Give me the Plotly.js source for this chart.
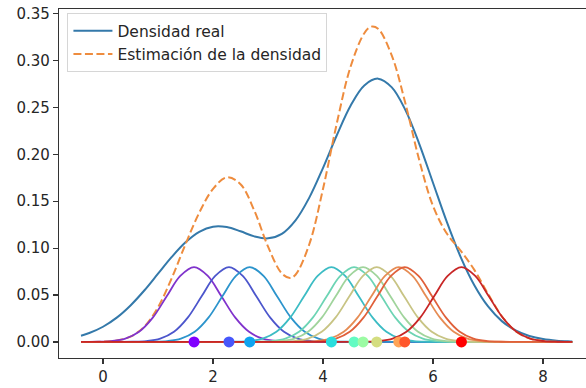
<!DOCTYPE html>
<html>
<head>
<meta charset="utf-8">
<script src="https://cdn.plot.ly/plotly-3.0.1.min.js"></script>
<style>
html, body { margin: 0; padding: 0; background: #ffffff; overflow: hidden; }
#chart { width: 586px; height: 388px; }
</style>
</head>
<body>
<div id="chart"></div>
<script>
// ---- Data ----
// Real density curve
const truthX = [-0.4, -0.25, 0, 0.25, 0.5, 0.75, 1.0, 1.25, 1.5, 1.75, 2.0, 2.25, 2.5, 2.75, 3.0, 3.25, 3.5, 3.75, 4.0, 4.25, 4.5, 4.75, 5.0, 5.25, 5.5, 5.75, 6.0, 6.25, 6.5, 6.75, 7.0, 7.25, 7.5, 7.75, 8.0, 8.25, 8.5, 8.53];
const truthY = [0.0067, 0.0095, 0.0162, 0.0259, 0.0389, 0.0548, 0.0727, 0.0906, 0.1062, 0.1174, 0.1228, 0.1224, 0.1179, 0.1125, 0.1104, 0.1152, 0.1296, 0.1538, 0.1856, 0.2203, 0.2518, 0.2734, 0.2806, 0.2713, 0.2468, 0.2109, 0.1694, 0.1279, 0.0907, 0.0604, 0.0378, 0.0222, 0.0123, 0.0064, 0.0031, 0.0014, 0.0006, 0.0005];

// Estimated density curve (dashed)
const estX = [-0.4, 0, 0.25, 0.5, 0.75, 1.0, 1.25, 1.5, 1.75, 2.0, 2.25, 2.5, 2.75, 3.0, 3.25, 3.4, 3.5, 3.75, 4.0, 4.25, 4.5, 4.75, 4.875, 5.0, 5.25, 5.5, 5.75, 6.0, 6.25, 6.5, 6.75, 7.0, 7.25, 7.5, 7.75, 8.0, 8.25, 8.5, 8.53];
const estY = [0, 0.0003, 0.0016, 0.0057, 0.0163, 0.0370, 0.0681, 0.1042, 0.1378, 0.1631, 0.1754, 0.1681, 0.1400, 0.1016, 0.0730, 0.0682, 0.0716, 0.1041, 0.1633, 0.2329, 0.2933, 0.3290, 0.3360, 0.3338, 0.3051, 0.2535, 0.1935, 0.1447, 0.1155, 0.0973, 0.0768, 0.0512, 0.0274, 0.0115, 0.0038, 0.0010, 0.0002, 0, 0];

// Sample points (dots on the axis) and their kernels
const sampleX = [1.655, 2.29, 2.667, 4.152, 4.564, 4.727, 4.976, 5.376, 5.485, 6.516];
const sampleY = [0, 0, 0, 0, 0, 0, 0, 0, 0, 0];
// Shape of one kernel bump (offset from its sample point -> height)
const kernelOffset = [-2, -1.75, -1.5, -1.25, -1, -0.75, -0.5, -0.25, 0, 0.25, 0.5, 0.75, 1, 1.25, 1.5, 1.75, 2];
const kernelHeight = [0, 0.0002, 0.0009, 0.0035, 0.0108, 0.0259, 0.0484, 0.0704, 0.0798, 0.0704, 0.0484, 0.0259, 0.0108, 0.0035, 0.0009, 0.0002, 0];
const curveDomain = [-0.4, 8.53];

const dotColors = ['#8000ff', '#4757fb', '#0ea4f0', '#2adddd', '#63fbc3', '#9cfba4', '#d4dd80', '#ffa457', '#ff572c', '#ff0000'];
const kernelColors = ['#8033cc', '#4c56cc', '#2c94cc', '#3cbcc4', '#6cd4b4', '#a0d49c', '#c8c484', '#e68c54', '#e0603a', '#c82626'];

const legendNames = ['Densidad real', 'Estimación de la densidad'];
const yTicks = [0, 0.05, 0.10, 0.15, 0.20, 0.25, 0.30, 0.35];
const xTicks = [0, 2, 4, 6, 8];

// ---- Traces ----
const traces = [];
traces.push({
  x: truthX, y: truthY, type: 'scatter', mode: 'lines', name: legendNames[0],
  line: { color: '#3479aa', width: 2, shape: 'spline', smoothing: 1 }
});
traces.push({
  x: estX, y: estY, type: 'scatter', mode: 'lines', name: legendNames[1],
  line: { color: '#ee8c3e', width: 2, dash: '8px,3.5px', shape: 'spline', smoothing: 1 }
});
sampleX.forEach((c, i) => {
  const kx = [curveDomain[0]].concat(kernelOffset.map(o => c + o), [curveDomain[1]]);
  const ky = [0].concat(kernelHeight, [0]);
  traces.push({
    x: kx, y: ky, type: 'scatter', mode: 'lines', showlegend: false,
    line: { color: kernelColors[i], width: 1.8, shape: 'spline', smoothing: 1 }
  });
});
traces.push({
  x: sampleX, y: sampleY, type: 'scatter', mode: 'markers', showlegend: false,
  marker: { color: dotColors, size: 11, line: { width: 0 } }, cliponaxis: false
});

const tickFont = { family: 'DejaVu Sans', size: 15, color: '#262626' };

const layout = {
  width: 586, height: 388,
  margin: { l: 59, r: 0, t: 9, b: 30, pad: 0 },
  paper_bgcolor: '#ffffff', plot_bgcolor: '#ffffff',
  showlegend: true,
  legend: {
    x: 0.016, y: 0.988, xanchor: 'left', yanchor: 'top',
    bgcolor: '#ffffff', bordercolor: '#d6d6d6', borderwidth: 1,
    font: { family: 'DejaVu Sans', size: 15.5, color: '#262626' },
    itemwidth: 39, tracegroupgap: 0
  },
  xaxis: {
    range: [-0.8, 8.78], tickvals: xTicks, ticktext: xTicks.map(String),
    showgrid: false, zeroline: false, showline: true, mirror: true,
    linecolor: '#333333', linewidth: 1.2,
    ticks: 'outside', ticklen: 5, tickwidth: 1.2, tickcolor: '#333333',
    tickfont: tickFont
  },
  yaxis: {
    range: [-0.0171, 0.3548], tickvals: yTicks, ticktext: yTicks.map(v => v.toFixed(2)),
    showgrid: false, zeroline: false, showline: true,
    linecolor: '#333333', linewidth: 1.2,
    ticks: 'outside', ticklen: 5, tickwidth: 1.2, tickcolor: '#333333',
    tickfont: tickFont
  }
};

Plotly.newPlot('chart', traces, layout, { staticPlot: true, displayModeBar: false });
</script>
</body>
</html>
